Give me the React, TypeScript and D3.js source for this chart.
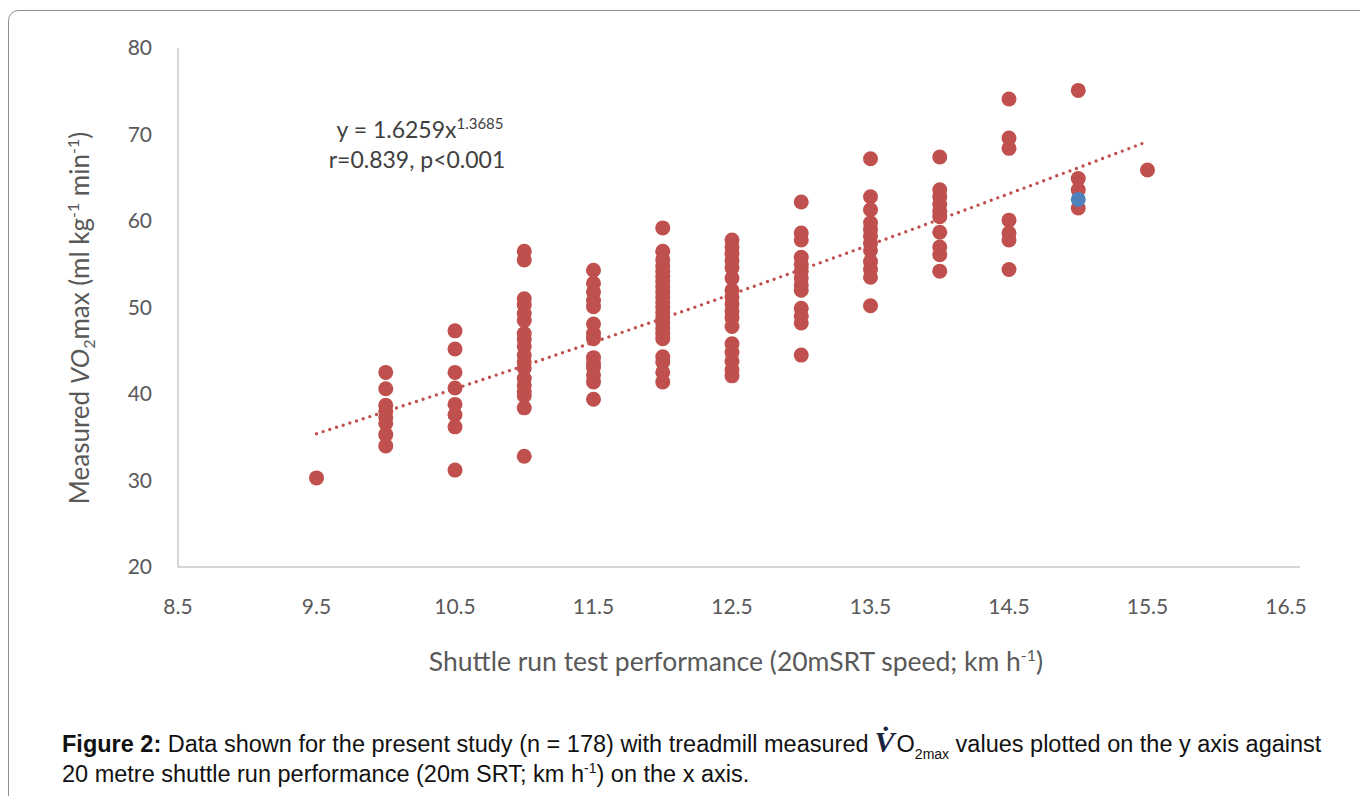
import * as d3 from "d3";

// x: shuttle run speed (km/h), y: measured VO2max (ml/kg/min)
const xTicks = [8.5, 9.5, 10.5, 11.5, 12.5, 13.5, 14.5, 15.5, 16.5];
const yTicks = [20, 30, 40, 50, 60, 70, 80];

const col95 = [30.3];
const col10 = [42.5, 40.6, 38.7, 38.0, 37.3, 36.6, 35.3, 34.0];
const col105 = [47.3, 45.2, 42.5, 40.7, 38.8, 37.6, 36.2, 31.2];
const col11 = [56.5, 55.5, 51.0, 50.3, 49.3, 48.5, 47.0, 46.3, 45.5, 44.5, 43.7, 43.0, 41.8, 41.0, 40.3, 39.8, 38.4, 32.8];
const col115 = [54.3, 52.8, 51.8, 50.8, 50.1, 48.1, 47.0, 46.4, 44.2, 43.5, 43.1, 42.2, 41.4, 39.4];
const col12 = [59.2, 56.5, 55.5, 54.8, 54.2, 53.6, 53.0, 52.4, 51.8, 51.2, 50.6, 50.0, 49.4, 48.8, 48.2, 47.6, 47.0, 46.4, 44.3, 43.7, 42.5, 41.4];
const col125 = [57.8, 57.0, 56.2, 55.4, 54.6, 53.4, 52.0, 51.2, 50.4, 49.6, 48.8, 47.8, 45.8, 44.8, 43.8, 42.8, 42.1];
const col13 = [62.2, 58.6, 57.8, 55.8, 55.0, 54.2, 53.4, 52.6, 52.0, 49.9, 49.0, 48.2, 44.5];
const col135 = [67.2, 62.8, 61.3, 59.8, 59.0, 58.2, 57.4, 56.6, 55.3, 54.4, 53.5, 50.2];
const col14 = [67.4, 63.6, 62.8, 61.9, 61.1, 60.5, 58.7, 57.0, 56.1, 54.2];
const col145 = [74.1, 69.6, 68.4, 60.1, 58.6, 57.8, 54.4];
const col15 = [75.1, 64.9, 63.6, 61.5];
const col155 = [65.9];
const highlighted = [{ x: 15, y: 62.5 }];

const columns: [number, number[]][] = [
  [9.5, col95], [10, col10], [10.5, col105], [11, col11], [11.5, col115],
  [12, col12], [12.5, col125], [13, col13], [13.5, col135], [14, col14],
  [14.5, col145], [15, col15], [15.5, col155],
];

// power trend line y = 1.6259 x^1.3685
const fitA = 1.6259;
const fitB = 1.3685;
const fitRange = [9.5, 15.5];

const W = 1360;
const H = 796;
const red = "#C0504D";
const blue = "#4F81BD";
const tickColor = "#595959";
const chartFont = "Lato, 'Open Sans', sans-serif";

export default function App() {
  const x = d3.scaleLinear().domain([8.5, 16.5]).range([178, 1286]);
  const y = d3.scaleLinear().domain([20, 80]).range([567, 48]);

  const points = columns.flatMap(([xv, ys]) => ys.map((v) => ({ x: xv, y: v })));

  const fitPts = d3.range(fitRange[0], fitRange[1] + 0.001, 0.05).map((v) => [v, fitA * Math.pow(v, fitB)] as [number, number]);
  const line = d3.line<[number, number]>().x((d) => x(d[0])).y((d) => y(d[1]));

  return (
    <svg width={W} height={H} style={{ position: "absolute", left: 0, top: 0, background: "#fff" }}>
      <rect x={8.5} y={10.5} width={W + 20} height={H + 20} rx={10} fill="none" stroke="#8c8c8c" strokeWidth={1} />

      {/* axes */}
      <line x1={x(8.5)} x2={x(8.5)} y1={y(80)} y2={y(20)} stroke="#c8c8c8" strokeWidth={1.5} />
      <line x1={x(8.5)} x2={x(16.5) + 14} y1={y(20)} y2={y(20)} stroke="#c8c8c8" strokeWidth={1.5} />

      <g fontFamily={chartFont} fontSize={21} fill={tickColor}>
        {yTicks.map((t) => (
          <text key={t} x={152} y={y(t)} dy="0.35em" textAnchor="end">{t}</text>
        ))}
        {xTicks.map((t) => (
          <text key={t} x={x(t)} y={614} textAnchor="middle">{t}</text>
        ))}
      </g>

      {/* points */}
      {points.map((p, i) => (
        <circle key={i} cx={x(p.x)} cy={y(p.y)} r={7.5} fill={red} />
      ))}
      {highlighted.map((p, i) => (
        <circle key={"b" + i} cx={x(p.x)} cy={y(p.y)} r={7.5} fill={blue} />
      ))}

      {/* trend line */}
      <path d={line(fitPts) || ""} fill="none" stroke={red} strokeWidth={3.4} strokeDasharray="0 7" strokeLinecap="round" />

      {/* equation */}
      <g fontFamily={chartFont} fill="#404040" fontSize={23}>
        <text x={420} y={138} textAnchor="middle">
          y = 1.6259x<tspan fontSize={15} dy={-9}>1.3685</tspan>
        </text>
        <text x={417} y={168} textAnchor="middle">r=0.839, p&lt;0.001</text>
      </g>

      {/* axis titles */}
      <text x={736} y={671} textAnchor="middle" fontFamily={chartFont} fontSize={26.5} fill={tickColor}>
        Shuttle run test performance (20mSRT speed; km h<tspan fontSize={16} dy={-10}>-1</tspan><tspan dy={10}>)</tspan>
      </text>
      <text transform={`translate(89,318) rotate(-90)`} textAnchor="middle" fontFamily={chartFont} fontSize={26} fill={tickColor}>
        Measured <tspan fontStyle="italic">VO</tspan><tspan fontSize={16} dy={6}>2</tspan><tspan dy={-6}>max (ml kg</tspan><tspan fontSize={16} dy={-10}>-1</tspan><tspan dy={10}> min</tspan><tspan fontSize={16} dy={-10}>-1</tspan><tspan dy={10}>)</tspan>
      </text>

      {/* caption */}
      <g fontFamily="'Liberation Sans', Arial, sans-serif" fontSize={23.5} fill="#111">
        <text x={62} y={752}>
          <tspan fontWeight="bold">Figure 2:</tspan> Data shown for the present study (n = 178) with treadmill measured
          <tspan fontFamily="'Liberation Serif', serif" fontStyle="italic" fontWeight="bold" fontSize={30} fill="#1a2440" dx={6}>V̇</tspan>
          <tspan dx={2}>O</tspan><tspan fontSize={14} dy={7}>2max</tspan><tspan dy={-7}> values plotted on the y axis against</tspan>
        </text>
        <text x={62} y={782}>
          20 metre shuttle run performance (20m SRT; km h<tspan fontSize={14} dy={-9}>-1</tspan><tspan dy={9}>) on the x axis.</tspan>
        </text>
      </g>
    </svg>
  );
}
